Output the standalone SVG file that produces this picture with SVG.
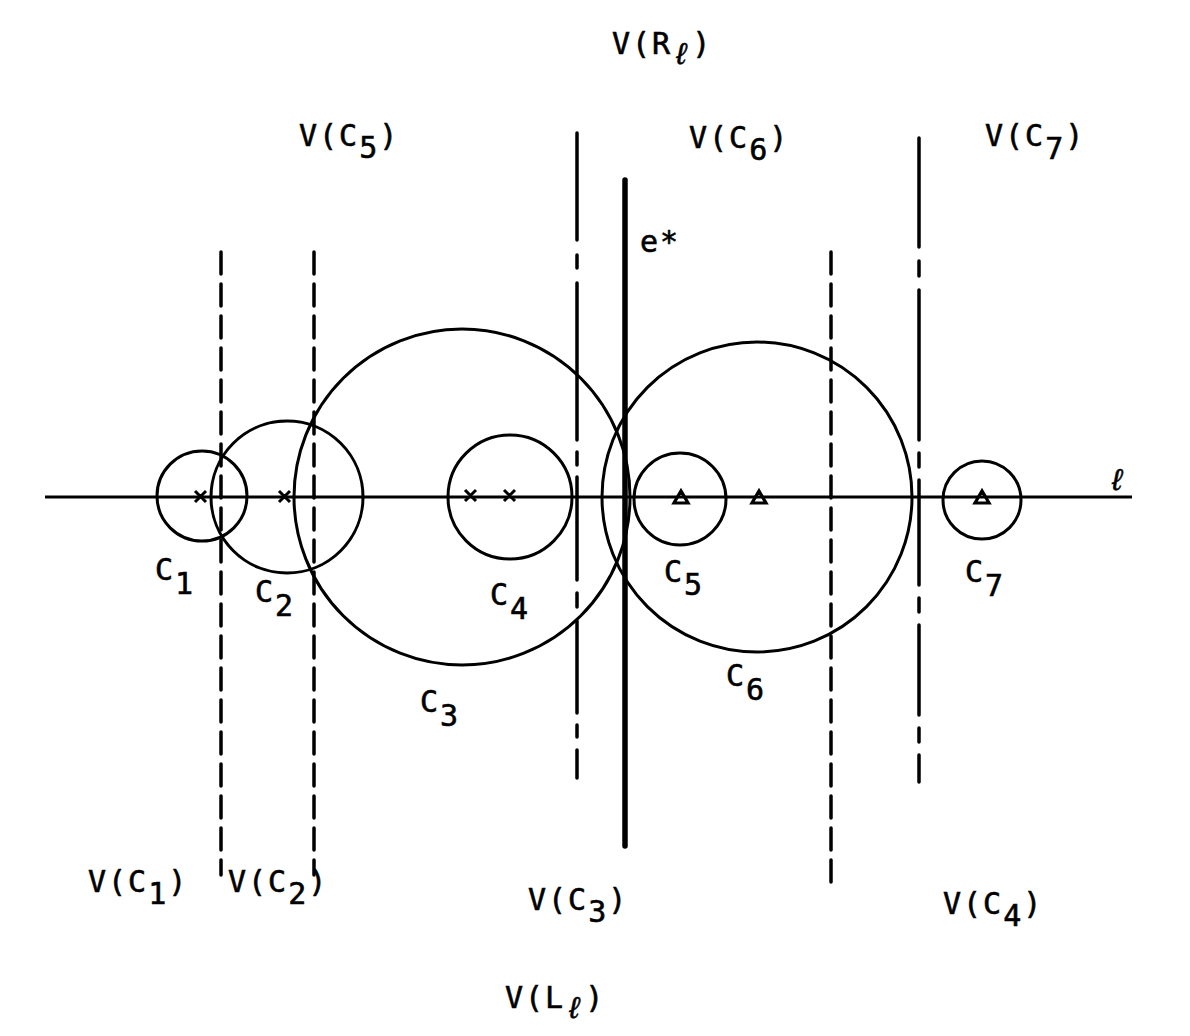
<svg xmlns="http://www.w3.org/2000/svg" width="1190" height="1036" viewBox="0 0 1190 1036">
<style>
.ln{stroke:#000;fill:none;stroke-width:3.2}
.c{stroke:#000;fill:none;stroke-width:3}
.dash{stroke:#000;stroke-width:3.5;fill:none;stroke-dasharray:22 10;stroke-linecap:round}
.dd{stroke:#000;stroke-width:3.5;fill:none;stroke-linecap:round}
.mk{stroke:#000;stroke-width:3;fill:none}
.tri{stroke:#000;stroke-width:3.2;fill:none;stroke-linejoin:miter}
text{font-family:"DejaVu Sans Mono","Liberation Mono",monospace;font-size:30px;fill:#000;stroke:#000;stroke-width:0.6;letter-spacing:2px}
</style>
<rect width="1190" height="1036" fill="#fff"/>
<g id="connectors">
<line id="line-l" class="ln" x1="45" y1="497" x2="1132" y2="497"/>
<line id="v1" class="dash" x1="221" y1="252" x2="221" y2="875"/>
<line id="v2" class="dash" x1="314" y1="252" x2="314" y2="875"/>
<line id="v3" class="dash" x1="831" y1="252" x2="831" y2="883"/>
<path id="v4" class="dd" d="M577 133V240M577 255V268M577 283V440M577 452V465M577 477V580M577 593V607M577 621V713M577 725V737M577 750V778"/>
<path id="v5" class="dd" d="M919 138V247M919 261V276M919 290V440M919 453V467M919 480V585M919 598V612M919 625V715M919 728V742M919 755V782"/>
<line id="estar" stroke="#000" stroke-width="5.5" stroke-linecap="round" x1="625" y1="180" x2="625" y2="846"/>
</g>
<g id="C1"><circle class="c" cx="202" cy="496" r="45"/><text x="155" y="580">C<tspan dy="14">1</tspan></text></g>
<g id="C2"><circle class="c" cx="287" cy="497" r="76"/><text x="255" y="602">C<tspan dy="14">2</tspan></text></g>
<g id="C3"><circle class="c" cx="462" cy="497" r="168"/><text x="420" y="712">C<tspan dy="14">3</tspan></text></g>
<g id="C4"><circle class="c" cx="510" cy="497" r="62"/><text x="490" y="605">C<tspan dy="14">4</tspan></text></g>
<g id="C5"><circle class="c" cx="680" cy="499" r="46"/><text x="664" y="582">C<tspan dy="13">5</tspan></text></g>
<g id="C6"><circle class="c" cx="757" cy="497" r="155"/><text x="726" y="686">C<tspan dy="14">6</tspan></text></g>
<g id="C7"><circle class="c" cx="982" cy="500" r="39"/><text x="965" y="582">C<tspan dy="14">7</tspan></text></g>
<g id="marks">
<path class="mk" d="M195 491l11 11M206 491l-11 11M279 491l11 11M290 491l-11 11M465 490l11 11M476 490l-11 11M504 490l11 11M515 490l-11 11"/>
<path class="tri" d="M674 503h14l-7 -12z M752 503h14l-7 -12z M975 503h14l-7 -12z"/>
</g>
<g id="labels">
<text x="612" y="54">V(R<tspan dy="10" font-style="italic">ℓ</tspan><tspan dy="-10">)</tspan></text>
<text x="299" y="146">V(C<tspan dy="12">5</tspan><tspan dy="-12">)</tspan></text>
<text x="689" y="148">V(C<tspan dy="12">6</tspan><tspan dy="-12">)</tspan></text>
<text x="985" y="146">V(C<tspan dy="13">7</tspan><tspan dy="-13">)</tspan></text>
<text x="640" y="252">e*</text>
<text x="1108" y="490" font-style="italic" font-size="32">ℓ</text>
<text x="88" y="892">V(C<tspan dy="12">1</tspan><tspan dy="-12">)</tspan></text>
<text x="228" y="892">V(C<tspan dy="12">2</tspan><tspan dy="-12">)</tspan></text>
<text x="528" y="910">V(C<tspan dy="12">3</tspan><tspan dy="-12">)</tspan></text>
<text x="943" y="914">V(C<tspan dy="12">4</tspan><tspan dy="-12">)</tspan></text>
<text x="505" y="1008">V(L<tspan dy="10" font-style="italic">ℓ</tspan><tspan dy="-10">)</tspan></text>
</g>
</svg>
